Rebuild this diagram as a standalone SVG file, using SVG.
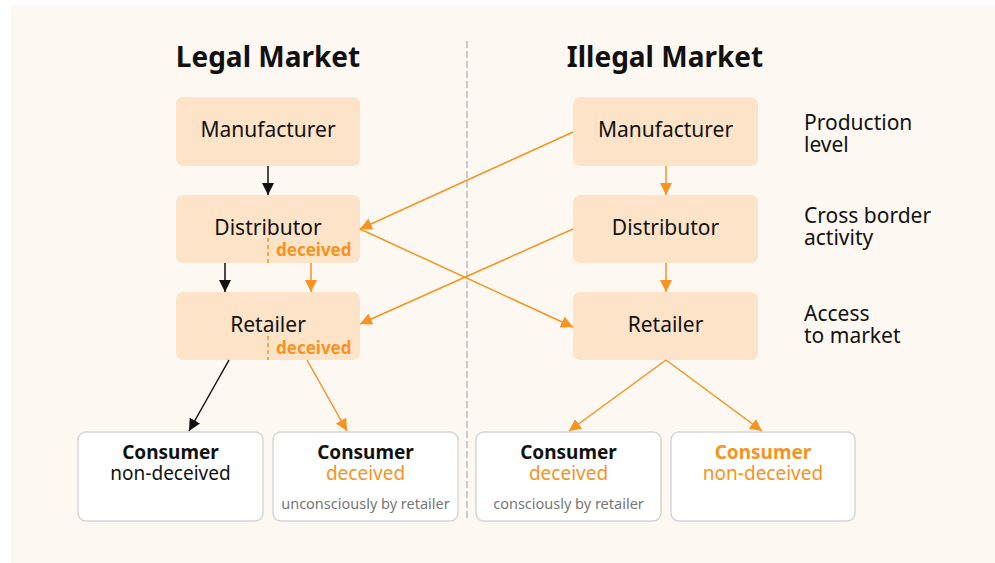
<svg xmlns="http://www.w3.org/2000/svg" width="995" height="563" viewBox="0 0 995 563">
  <style>
    text { font-family: "Noto Sans", "Open Sans", sans-serif; }
    .title { font-size: 28px; font-weight: bold; fill: #111; text-anchor: middle; }
    .node rect { fill: #FDE3C7; }
    .node text { font-size: 21px; fill: #111; text-anchor: middle; }
    .node text.dec { font-size: 17px; font-weight: bold; fill: #F7931E; text-anchor: start; }
    .node line.split { stroke: #F7931E; stroke-width: 1.5; stroke-dasharray: 4 3; }
    .consumer rect { fill: #fff; stroke: #D6D6D6; stroke-width: 1.5; }
    .consumer text { text-anchor: middle; font-size: 19px; fill: #111; }
    .consumer .head { font-weight: bold; }
    .consumer .accent { fill: #F7931E; }
    .consumer text.note { font-size: 14.5px; fill: #777; }
    .level { font-size: 21px; fill: #111; }
    .edge-blk { stroke: #111; stroke-width: 1.5; fill: none; marker-end: url(#arrBlk); }
    .edge-org { stroke: #F7931E; stroke-width: 1.5; fill: none; marker-end: url(#arrOrg); }
  </style>
  <defs>
    <marker id="arrBlk" viewBox="0 0 10 10" refX="10" refY="5" markerWidth="12" markerHeight="12" orient="auto" markerUnits="userSpaceOnUse">
      <path d="M0,0 L10,5 L0,10 z" fill="#111"/>
    </marker>
    <marker id="arrOrg" viewBox="0 0 10 10" refX="10" refY="5" markerWidth="12" markerHeight="12" orient="auto" markerUnits="userSpaceOnUse">
      <path d="M0,0 L10,5 L0,10 z" fill="#F7931E"/>
    </marker>
  </defs>

  <!-- panel -->
  <rect x="11" y="5" width="984" height="558" fill="#FDF8F2"/>

  <!-- column divider -->
  <line x1="467" y1="41" x2="467" y2="521" stroke="#BDBDBD" stroke-width="1.5" stroke-dasharray="7 3"/>

  <!-- headings -->
  <text class="title" x="268" y="67">Legal Market</text>
  <text class="title" x="665" y="67">Illegal Market</text>

  <!-- legal market chain -->
  <g id="legal-manufacturer" class="node">
    <rect x="176" y="97" width="184" height="69" rx="7"/>
    <text x="268" y="137">Manufacturer</text>
  </g>
  <g id="legal-distributor" class="node">
    <rect x="176" y="195" width="184" height="68" rx="7"/>
    <text x="268" y="235">Distributor</text>
    <line class="split" x1="268" y1="238" x2="268" y2="263"/>
    <text class="dec" x="276" y="256">deceived</text>
  </g>
  <g id="legal-retailer" class="node">
    <rect x="176" y="292" width="184" height="68" rx="7"/>
    <text x="268" y="332">Retailer</text>
    <line class="split" x1="268" y1="336" x2="268" y2="360"/>
    <text class="dec" x="276" y="354">deceived</text>
  </g>

  <!-- illegal market chain -->
  <g id="illegal-manufacturer" class="node">
    <rect x="573" y="97" width="185" height="69" rx="7"/>
    <text x="665.5" y="137">Manufacturer</text>
  </g>
  <g id="illegal-distributor" class="node">
    <rect x="573" y="195" width="185" height="68" rx="7"/>
    <text x="665.5" y="235">Distributor</text>
  </g>
  <g id="illegal-retailer" class="node">
    <rect x="573" y="292" width="185" height="68" rx="7"/>
    <text x="665.5" y="332">Retailer</text>
  </g>

  <!-- consumers -->
  <g id="consumer-legal-nondeceived" class="consumer">
    <rect x="78" y="432" width="185" height="89" rx="8"/>
    <text x="170.5" y="459"><tspan class="head">Consumer</tspan><tspan x="170.5" dy="21">non-deceived</tspan></text>
  </g>
  <g id="consumer-legal-deceived" class="consumer">
    <rect x="273" y="432" width="185" height="89" rx="8"/>
    <text x="365.5" y="459"><tspan class="head">Consumer</tspan><tspan class="accent" x="365.5" dy="21">deceived</tspan></text>
    <text class="note" x="365.5" y="509">unconsciously by retailer</text>
  </g>
  <g id="consumer-illegal-deceived" class="consumer">
    <rect x="476" y="432" width="185" height="89" rx="8"/>
    <text x="568.5" y="459"><tspan class="head">Consumer</tspan><tspan class="accent" x="568.5" dy="21">deceived</tspan></text>
    <text class="note" x="568.5" y="509">consciously by retailer</text>
  </g>
  <g id="consumer-illegal-nondeceived" class="consumer">
    <rect x="671" y="432" width="184" height="89" rx="8"/>
    <text x="763" y="459"><tspan class="head accent">Consumer</tspan><tspan class="accent" x="763" dy="21">non-deceived</tspan></text>
  </g>

  <!-- level labels -->
  <g id="level-labels" class="level">
    <text x="804" y="130">Production<tspan x="804" dy="22">level</tspan></text>
    <text x="804" y="223">Cross border<tspan x="804" dy="22">activity</tspan></text>
    <text x="804" y="321">Access<tspan x="804" dy="22">to market</tspan></text>
  </g>

  <!-- connectors -->
  <g id="connectors">
    <line class="edge-blk" x1="268" y1="166" x2="268" y2="195"/>
    <line class="edge-blk" x1="225" y1="263" x2="225" y2="292"/>
    <line class="edge-org" x1="311" y1="263" x2="311" y2="292"/>
    <line class="edge-blk" x1="229" y1="360" x2="189" y2="431"/>
    <line class="edge-org" x1="307" y1="360" x2="347" y2="431"/>

    <line class="edge-org" x1="666" y1="166" x2="666" y2="195"/>
    <line class="edge-org" x1="666" y1="263" x2="666" y2="292"/>
    <line class="edge-org" x1="666" y1="360" x2="569" y2="431"/>
    <line class="edge-org" x1="666" y1="360" x2="762" y2="431"/>

    <line class="edge-org" x1="573" y1="132" x2="360" y2="229"/>
    <line class="edge-org" x1="573" y1="229" x2="360" y2="324"/>
    <line class="edge-org" x1="360" y1="229" x2="573" y2="327"/>
  </g>
</svg>
